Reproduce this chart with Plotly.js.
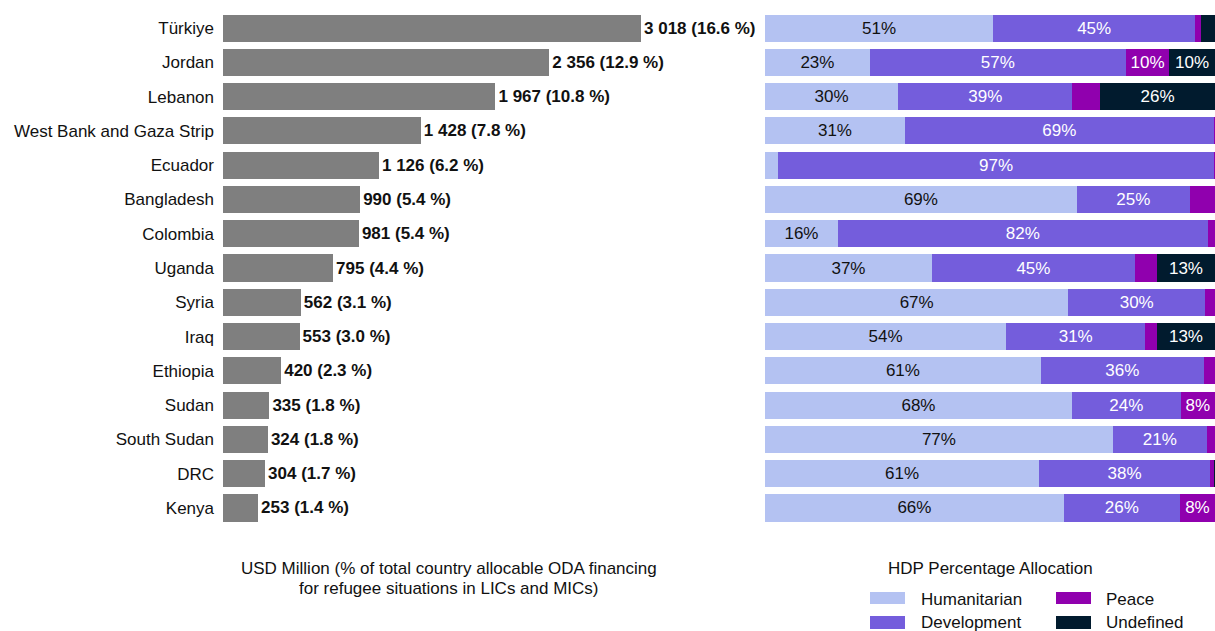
<!DOCTYPE html>
<html>
<head>
<meta charset="utf-8">
<script src="https://cdn.plot.ly/plotly-3.0.1.min.js"></script>
<style>html,body{margin:0;padding:0;background:#fff;}#chart{width:1215px;height:631px;}</style>
</head>
<body>
<div id="chart"></div>
<script>
// ---- data ----
const countries = ["Türkiye","Jordan","Lebanon","West Bank and Gaza Strip","Ecuador","Bangladesh","Colombia","Uganda","Syria","Iraq","Ethiopia","Sudan","South Sudan","DRC","Kenya"];
const usdMillion = [3018,2356,1967,1428,1126,990,981,795,562,553,420,335,324,304,253];
const sharePct = [16.6,12.9,10.8,7.8,6.2,5.4,5.4,4.4,3.1,3.0,2.3,1.8,1.8,1.7,1.4];
const humanitarian = [50.7,23.3,29.6,31.1,2.9,69.3,16.2,37.1,67.4,53.6,61.3,68.2,77.3,60.9,66.4];
const development  = [44.9,56.9,38.7,68.6,96.9,25.1,82.2,45.1,30.4,30.9,36.2,24.2,20.9,38.0,25.8];
const peace        = [1.3,9.6,6.2,0.3,0.2,5.6,1.6,4.9,2.2,2.6,2.5,7.6,1.8,0.9,7.8];
const undefinedPct = [3.1,10.2,25.5,0,0,0,0,12.9,0,12.9,0,0,0,0.2,0];
const seriesNames = ["Humanitarian","Development","Peace","Undefined"];
const seriesColors = ["#b4c2f2","#745ddc","#9000ae","#011b2e"];
const seriesTextColors = ["#111111","#ffffff","#ffffff","#ffffff"];

// ---- helpers ----
const FONT = "Liberation Sans, Arial, sans-serif";
function fmtNum(v){ return String(v).replace(/\B(?=(\d{3})+(?!\d))/g, " "); }
const leftText = usdMillion.map((v,i)=> fmtNum(v) + " (" + sharePct[i].toFixed(1) + " %)");
function pctText(arr){ return arr.map(v => v >= 7 ? Math.round(v) + "%" : ""); }

const W = 1215, H = 631;
const px = x => x / W;
const py = y => 1 - y / H;

const traces = [];
traces.push({
  type: "bar", orientation: "h", x: usdMillion, y: countries,
  xaxis: "x", yaxis: "y",
  marker: {color: "#7f7f7f"},
  text: leftText, textposition: "outside", cliponaxis: false,
  textfont: {family: FONT, size: 17, color: "#111111", weight: "bold"},
  hoverinfo: "skip", showlegend: false
});
[humanitarian, development, peace, undefinedPct].forEach((arr, k) => {
  traces.push({
    type: "bar", orientation: "h", x: arr, y: countries,
    xaxis: "x2", yaxis: "y",
    name: seriesNames[k],
    marker: {color: seriesColors[k], line: {width: 0}},
    text: pctText(arr), textposition: "inside", insidetextanchor: "middle",
    constraintext: "none",
    textfont: {family: FONT, size: 17, color: seriesTextColors[k]},
    hoverinfo: "skip", showlegend: false
  });
});

const shapes = [];
const annotations = [];
// legend (manual, two columns)
const legPos = [[870, 919, 592, 604, 599], [870, 919, 616, 629, 622], [1056, 1104, 592, 604, 599], [1056, 1104, 616, 629, 622]];
seriesNames.forEach((n, k) => {
  const p = legPos[k];
  shapes.push({type: "rect", xref: "paper", yref: "paper", x0: px(p[0]), x1: px(p[0] + 35), y0: py(p[3]), y1: py(p[2]), fillcolor: seriesColors[k], line: {width: 0}});
  annotations.push({xref: "paper", yref: "paper", x: px(p[1]), y: py(p[4]), xanchor: "left", yanchor: "middle", text: n, showarrow: false, font: {family: FONT, size: 17, color: "#111111"}});
});
annotations.push({xref: "paper", yref: "paper", x: px(990), y: py(568), xanchor: "center", yanchor: "middle", text: "HDP Percentage Allocation", showarrow: false, font: {family: FONT, size: 17, color: "#111111"}});
annotations.push({xref: "paper", yref: "paper", x: px(449), y: py(568), xanchor: "center", yanchor: "middle", text: "USD Million (% of total country allocable ODA financing", showarrow: false, font: {family: FONT, size: 17, color: "#111111"}});
annotations.push({xref: "paper", yref: "paper", x: px(449), y: py(588), xanchor: "center", yanchor: "middle", text: "for refugee situations in LICs and MICs)", showarrow: false, font: {family: FONT, size: 17, color: "#111111"}});

const layout = {
  width: W, height: H,
  margin: {l: 0, r: 0, t: 0, b: 0},
  paper_bgcolor: "#ffffff", plot_bgcolor: "#ffffff",
  barmode: "stack", bargap: 0.21,
  font: {family: FONT, size: 17, color: "#111111"},
  xaxis: {domain: [px(223), px(755)], range: [0, 3841], showgrid: false, zeroline: false, showticklabels: false, showline: false, fixedrange: true},
  xaxis2: {domain: [px(765), 1], range: [0, 100], anchor: "y", showgrid: false, zeroline: false, showticklabels: false, showline: false, fixedrange: true},
  yaxis: {domain: [py(525.1), py(10.9)], type: "category", categoryorder: "array", categoryarray: countries, autorange: "reversed",
          showgrid: false, zeroline: false, showline: false, ticks: "", ticklabelstandoff: 8,
          tickfont: {family: FONT, size: 17, color: "#111111"}, fixedrange: true},
  shapes: shapes, annotations: annotations,
  showlegend: false
};
Plotly.newPlot("chart", traces, layout, {displayModeBar: false, staticPlot: true});
</script>
</body>
</html>
